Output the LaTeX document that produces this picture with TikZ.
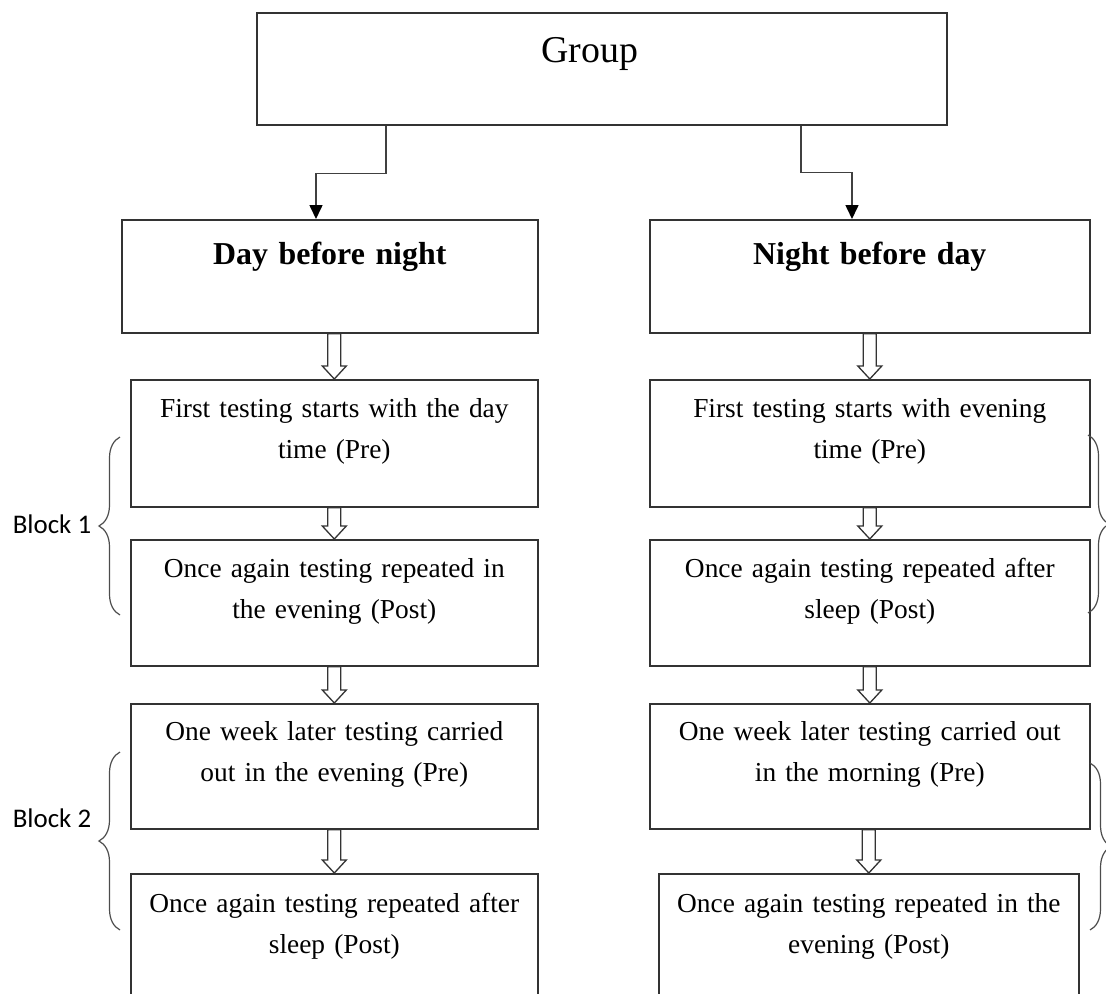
\documentclass[tikz,border=0pt]{standalone}
\usepackage{fontspec}
\setmainfont{Liberation Serif}
\newfontfamily\blockfont{Carlito}
\usetikzlibrary{positioning,arrows.meta,calc,decorations.pathreplacing}

% open block arrow from the bottom of one box to the top of the next
\newcommand{\openarrow}[2]{%
  \draw[hollow] ($(#2 |- #1)+(-6.5,0)$) -- ($(#2)+(-6.5,-13)$) -- ($(#2)+(-12,-13)$)
    -- (#2) -- ($(#2)+(12,-13)$) -- ($(#2)+(6.5,-13)$) -- ($(#2 |- #1)+(6.5,0)$) -- cycle;}

\begin{document}
\begin{tikzpicture}[x=1bp,y=-1bp,
    stage/.style={draw=black!80,line width=1.6bp,inner sep=0pt,anchor=north west,
      align=center,font=\fontsize{27.5}{41}\selectfont},
    head/.style={font=\bfseries\fontsize{32}{38}\selectfont},
    flow/.style={draw=black!75,line width=1.6bp,-{Triangle[length=14bp,width=13bp,color=black]}},
    hollow/.style={draw=black!80,line width=1.3bp,fill=white},
    blockbrace/.style={decorate,decoration={brace,amplitude=21bp},draw=black!70,line width=1.2bp},
    blocklabel/.style={font=\blockfont\fontsize{27}{32}\selectfont,inner sep=0pt}]
  \useasboundingbox (0,0) rectangle (1106,994);
  \clip (0,0) rectangle (1106,994);

  \node[stage,text width=690bp,text height=50bp,text depth=62bp,font=\fontsize{38}{44}\selectfont] (G) at (256,12) {\hspace*{-24bp}Group};
  \node[stage,head,text width=416bp,text height=45bp,text depth=68bp] (L1) at (121,219) {Day before night};
  \node[stage,head,text width=440bp,text height=45bp,text depth=68bp] (R1) at (649,219) {Night before day};

  \foreach \n/\x/\y/\w/\h/\d/\t in {
      L2/130/379/407/38/89/{First testing starts with the day\\time (Pre)},
      L3/130/539/407/38/88/{Once again testing repeated in\\the evening (Post)},
      L4/130/703/407/37/88/{One week later testing carried\\out in the evening (Pre)},
      L5/130/873/407/39/141/{Once again testing repeated after\\sleep (Post)},
      R2/649/379/440/38/89/{First testing starts with evening\\time (Pre)},
      R3/649/539/440/38/88/{Once again testing repeated after\\sleep (Post)},
      R4/649/703/440/37/88/{One week later testing carried out\\in the morning (Pre)},
      R5/658/873/420/39/141/{Once again testing repeated in the\\evening (Post)}}
    \node[stage,text width=\w bp,text height=\h bp,text depth=\d bp] (\n) at (\x,\y) {\t};

  \draw[flow] ($(G.south west)+(130,0)$) -- ++(0,48) -| ($(L1.north west)+(195,0)$);
  \draw[flow] ($(G.south west)+(545,0)$) -- ++(0,47) -| ($(R1.north west)+(203,0)$);

  \openarrow{L1.south}{L2.north}
  \openarrow{L2.south}{L3.north}
  \openarrow{L3.south}{L4.north}
  \openarrow{L4.south}{L5.north}
  \openarrow{R1.south}{R2.north}
  \openarrow{R2.south}{R3.north}
  \openarrow{R3.south}{R4.north}
  \openarrow{R4.south}{R5.north}

  \draw[blockbrace] (120,615) -- (120,437);
  \draw[blockbrace] (120,930) -- (120,752);
  \draw[blockbrace] (1088,435) -- (1088,613);
  \draw[blockbrace] (1090,763) -- (1090,930);
  \node[blocklabel] (B1) at (52,524) {Block 1};
  \node[blocklabel] (B2) at (52,818) {Block 2};
\end{tikzpicture}
\end{document}
